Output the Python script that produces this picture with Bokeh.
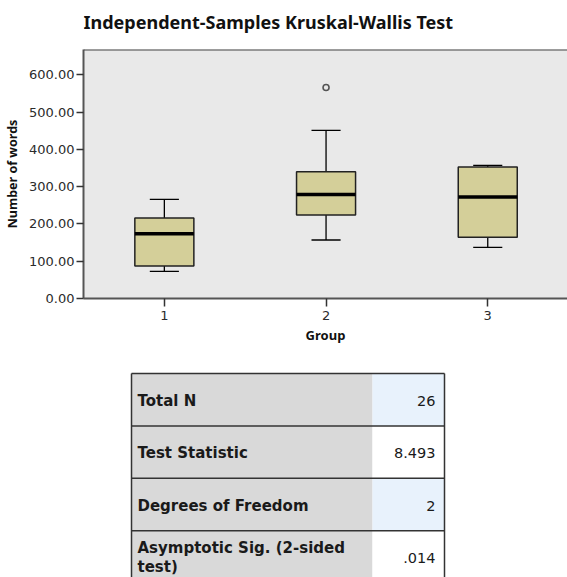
from bokeh.plotting import figure
from bokeh.layouts import column
from bokeh.models import Range1d, FixedTicker, Span, ColumnDataSource
from bokeh.core.properties import value
from bokeh.embed import file_html
from bokeh.resources import INLINE

# ---- data ----
title_text = "Independent-Samples Kruskal-Wallis Test"
groups = [1, 2, 3]
group_labels = ["1", "2", "3"]
whisker_low = [73, 157, 137]
q1 = [87, 224, 164]
median = [174, 279, 272]
q3 = [216, 340, 353]
whisker_high = [266, 451, 357]
outlier_group = [2]
outlier_value = [566]
y_ticks = [0, 100, 200, 300, 400, 500, 600]

row_labels = ["Total N", "Test Statistic", "Degrees of Freedom", "Asymptotic Sig. (2-sided\ntest)"]
row_values = ["26", "8.493", "2", ".014"]

W = 567
FL = 83          # frame left (page px)


def blank(height, top, bottom):
    f = figure(width=W, height=height, output_backend="svg", toolbar_location=None,
               x_range=Range1d(FL, W), y_range=Range1d(bottom, top),
               x_axis_location=None, y_axis_location=None,
               min_border_left=FL, min_border_right=0, min_border_top=0, min_border_bottom=0)
    f.outline_line_color = None
    f.xgrid.visible = False
    f.ygrid.visible = False
    return f


# ---- title strip (page px coordinates) ----
h = blank(49, 0, 49)
h.text(x=[83], y=[21], text=[title_text], text_font=value("Noto Sans"),
       text_font_style="bold", text_font_size="18px", text_color="#111111",
       text_align="left", text_baseline="middle")

# ---- chart ----
BOX_W = 0.365
CAP_W = 0.18
p = figure(width=W, height=301, output_backend="svg", toolbar_location=None,
           x_range=Range1d(0.5, 0.5 + (W - FL) / 161.7), y_range=Range1d(0, 668),
           min_border_left=FL, min_border_right=0, min_border_top=0, min_border_bottom=52)
p.background_fill_color = "#e9e9e9"
p.outline_line_color = None
p.xgrid.visible = False
p.ygrid.visible = False

for ax in (p.xaxis[0], p.yaxis[0]):
    ax.axis_line_color = "#555555"
    ax.axis_line_width = 2
    ax.major_tick_line_color = "#333333"
    ax.major_tick_line_width = 1.5
    ax.major_tick_in = 0
    ax.major_tick_out = 7
    ax.minor_tick_line_color = None
    ax.major_label_text_font = "DejaVu Sans"
    ax.major_label_text_color = "#2b2b2b"
    ax.axis_label_text_font = "Noto Sans"
    ax.axis_label_text_font_style = "bold"
    ax.axis_label_text_color = "#111111"

p.yaxis.ticker = FixedTicker(ticks=y_ticks)
p.yaxis.major_label_overrides = {t: f"{t:.2f}" for t in y_ticks}
p.yaxis.major_label_text_font_size = "13px"
p.yaxis.major_label_standoff = 2
p.yaxis.axis_label = "Number of words"
p.yaxis.axis_label_text_font_size = "12.5px"
p.yaxis.axis_label_standoff = 5

p.xaxis.ticker = FixedTicker(ticks=groups)
p.xaxis.major_label_overrides = {g: l for g, l in zip(groups, group_labels)}
p.xaxis.major_label_text_font_size = "13px"
p.xaxis.major_tick_out = 8
p.xaxis.major_label_standoff = 4
p.xaxis.axis_label = "Group"
p.xaxis.axis_label_text_font_size = "13px"
p.xaxis.axis_label_standoff = 3

p.add_layout(Span(location=668, dimension="width", line_color="#444444", line_width=2))

src = ColumnDataSource(dict(
    x=groups, lo=whisker_low, q1=q1, med=median, q3=q3, hi=whisker_high,
    cap_l=[g - CAP_W / 2 for g in groups], cap_r=[g + CAP_W / 2 for g in groups],
    box_l=[g - BOX_W / 2 for g in groups], box_r=[g + BOX_W / 2 for g in groups],
))
# whiskers
p.segment(x0="x", y0="q3", x1="x", y1="hi", source=src, line_color="black", line_width=1.3)
p.segment(x0="x", y0="q1", x1="x", y1="lo", source=src, line_color="black", line_width=1.3)
p.segment(x0="cap_l", y0="hi", x1="cap_r", y1="hi", source=src, line_color="black", line_width=1.3)
p.segment(x0="cap_l", y0="lo", x1="cap_r", y1="lo", source=src, line_color="black", line_width=1.3)
# boxes
p.vbar(x="x", width=BOX_W, bottom="q1", top="q3", source=src,
       fill_color="#d4cf99", line_color="#222222", line_width=1.5)
# medians
p.segment(x0="box_l", y0="med", x1="box_r", y1="med", source=src, line_color="black", line_width=3.5)
# outliers
p.scatter(x=outlier_group, y=outlier_value, marker="circle", size=6,
          fill_color=None, line_color="#555555", line_width=1.6)

# ---- table (page px coordinates) ----
TOP, BOT = 350, 577
t = blank(BOT - TOP, TOP, BOT)

X0, XD, X1 = 131, 372, 444
Y0, RH = 373, 52.4
n = len(row_labels)
tops = [Y0 + i * RH for i in range(n)]
bots = [Y0 + (i + 1) * RH for i in range(n)]
mids = [(a + b) / 2 for a, b in zip(tops, bots)]
val_colors = ["#e8f2fc" if i % 2 == 0 else "#ffffff" for i in range(n)]

t.quad(left=[X0] * n, right=[XD] * n, top=tops, bottom=bots, fill_color="#d9d9d9", line_color=None)
t.quad(left=[XD] * n, right=[X1] * n, top=tops, bottom=bots, fill_color=val_colors, line_color=None)
hlines = tops + [bots[-1]]
t.segment(x0=[X0] * len(hlines), x1=[X1] * len(hlines), y0=hlines, y1=hlines,
          line_color="#333333", line_width=1.5)
t.segment(x0=[X0, X1], x1=[X0, X1], y0=[Y0, Y0], y1=[bots[-1], bots[-1]],
          line_color="#333333", line_width=1.5)

t.text(x=[X0 + 6] * n, y=[m + 1 for m in mids], text=row_labels, text_font=value("DejaVu Sans"),
       text_font_style="bold", text_font_size="15px", text_color="#1a1a1a",
       text_align="left", text_baseline="middle", text_line_height=1.05)
t.text(x=[X1 - 9] * n, y=[m + 1 for m in mids], text=row_values, text_font=value("DejaVu Sans"),
       text_font_size="14.5px", text_color="#1a1a1a",
       text_align="right", text_baseline="middle")

layout = column(h, p, t, spacing=0)
open("out.html", "w").write(file_html(layout, INLINE))
